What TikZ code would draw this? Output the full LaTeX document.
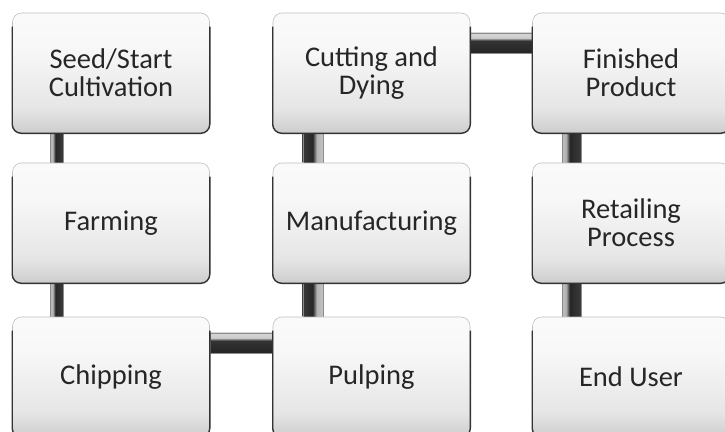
\documentclass[tikz,border=0pt]{standalone}
\usepackage{fontspec}
\setmainfont{Carlito}
\usetikzlibrary{calc,backgrounds}
\pgfdeclareverticalshading{boxshade}{100bp}{color(0bp)=(black!45); color(14bp)=(black!30); color(35bp)=(black!10); color(60bp)=(black!3); color(100bp)=(white)}
\pgfdeclarehorizontalshading{vpipeR}{100bp}{color(0bp)=(black!15); color(35bp)=(black!30); color(45bp)=(black!85); color(100bp)=(black!70)}
\pgfdeclarehorizontalshading{vpipeL}{100bp}{color(0bp)=(black!70); color(50bp)=(black!85); color(60bp)=(black!30); color(100bp)=(black!12)}
\pgfdeclareverticalshading{hpipe}{100bp}{color(0bp)=(black!15); color(15bp)=(black!35); color(25bp)=(black!85); color(55bp)=(black!80); color(62bp)=(black!20); color(100bp)=(black!8)}
\tikzset{
  flowbox/.style={rounded corners=9pt, minimum width=197pt, minimum height=120pt,
    shading=boxshade, draw=black!25, line width=0.6pt, align=center,
    text=black!85, font=\fontsize{28.5}{28}\selectfont, inner sep=2pt},
  boxedge/.style={draw=black!80, line width=1.4pt, rounded corners=9pt},
  pipeline/.style={draw=black!45, line width=0.4pt}
}
\newcommand\flowbox[4]{%
  \node[flowbox] (#1) at (#2,#3) {#4};
  \draw[boxedge] ([yshift=-14pt]#1.north west) -- (#1.south west) -- (#1.south east) -- ([yshift=-14pt]#1.north east);
}
\begin{document}
\begin{tikzpicture}[x=1pt,y=-1pt]
\useasboundingbox (0,0) rectangle (725,431);
\flowbox{seed}{111}{73}{Seed/Start\\Cultivation}
\flowbox{farm}{111}{223}{Farming}
\flowbox{chip}{111}{377}{Chipping}
\flowbox{cut}{371.5}{73}{Cutting and\\Dying}
\flowbox{manu}{371.5}{223}{Manufacturing}
\flowbox{pulp}{371.5}{377}{Pulping}
\flowbox{fin}{631}{73}{Finished\\Product}
\flowbox{ret}{631}{223}{Retailing\\Process}
\flowbox{end}{631}{377}{End User}
\begin{scope}[on background layer]
  % vertical pipes column 1
  \path[shading=vpipeR, pipeline] ($(seed.south west)+(38pt,0)$) rectangle ($(farm.north west)+(51pt,0)$);
  \path[shading=vpipeR, pipeline] ($(farm.south west)+(38pt,0)$) rectangle ($(chip.north west)+(51pt,0)$);
  % vertical pipes column 2
  \path[shading=vpipeL, pipeline] ($(cut.south west)+(30pt,0)$) rectangle ($(manu.north west)+(50pt,0)$);
  \path[shading=vpipeL, pipeline] ($(manu.south west)+(30pt,0)$) rectangle ($(pulp.north west)+(50pt,0)$);
  % vertical pipes column 3
  \path[shading=vpipeR, pipeline] ($(fin.south west)+(30pt,0)$) rectangle ($(ret.north west)+(49pt,0)$);
  \path[shading=vpipeR, pipeline] ($(ret.south west)+(30pt,0)$) rectangle ($(end.north west)+(49pt,0)$);
  % horizontal pipes
  \path[shading=hpipe, pipeline] ($(cut.north east)+(0,-20pt)$) rectangle ($(fin.north west)+(0,-40pt)$);
  \path[shading=hpipe, pipeline] ($(chip.north east)+(0,-16pt)$) rectangle ($(pulp.north west)+(0,-36pt)$);
\end{scope}
\end{tikzpicture}
\end{document}
